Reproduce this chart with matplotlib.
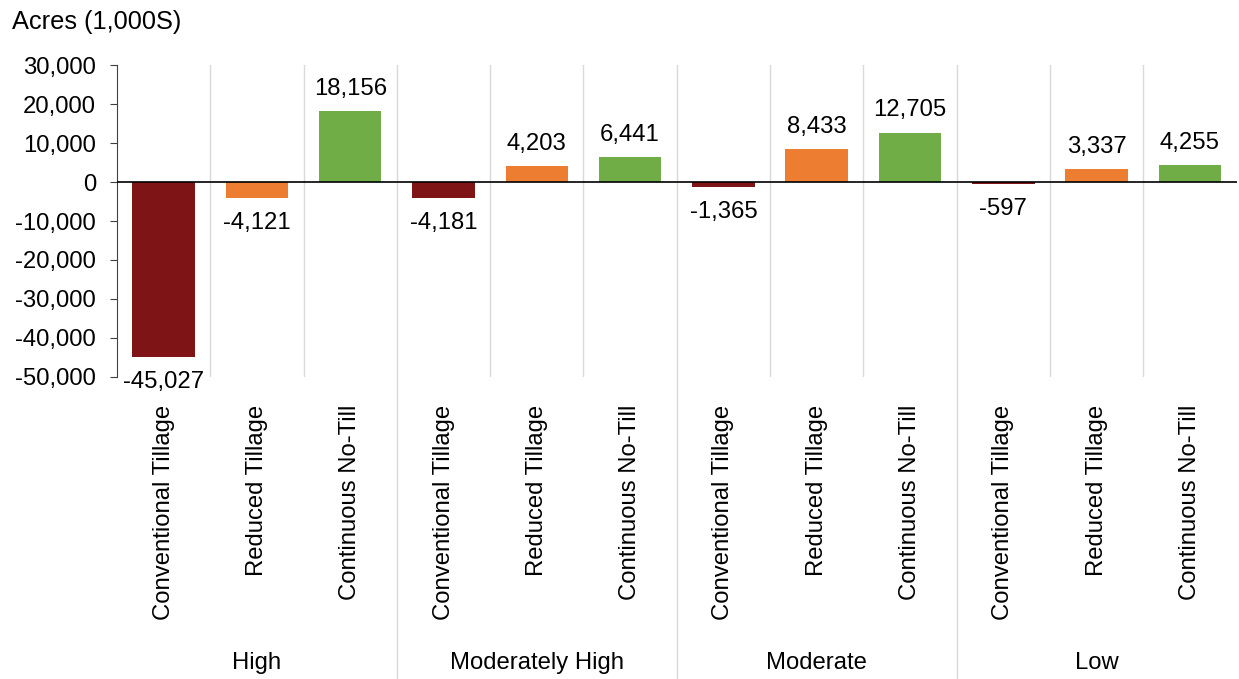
import matplotlib
matplotlib.use("Agg")
import matplotlib.pyplot as plt
import matplotlib.transforms as mtransforms
from matplotlib.ticker import FuncFormatter

plt.rcParams['font.family'] = ['Liberation Sans', 'DejaVu Sans']

# data
groups = ["High", "Moderately High", "Moderate", "Low"]
practices = ["Conventional Tillage", "Reduced Tillage", "Continuous No-Till"]
values_high = [-45027, -4121, 18156]
values_mod_high = [-4181, 4203, 6441]
values_moderate = [-1365, 8433, 12705]
values_low = [-597, 3337, 4255]
practice_colors = ["#7F1416", "#ED7D31", "#70AD47"]

all_values = values_high + values_mod_high + values_moderate + values_low
n_prac = len(practices)
xs = list(range(len(all_values)))
colors = practice_colors * len(groups)

FS = 17.2

fig = plt.figure(figsize=(12.39, 6.79), dpi=100)
ax = fig.add_axes([0.0944, 0.445, 0.9036, 0.459])

ax.bar(xs, all_values, width=0.67, color=colors, zorder=3)
ax.set_xlim(-0.5, len(xs) - 0.5)
ax.set_ylim(-50000, 30000)
ax.set_yticks(range(-50000, 30001, 10000))
ax.yaxis.set_major_formatter(FuncFormatter(lambda v, p: f"{int(v):,}"))
ax.tick_params(axis='y', labelsize=FS, length=5, color='#404040', pad=10)
ax.set_xticks([])

for s in ['top', 'right', 'bottom']:
    ax.spines[s].set_visible(False)
ax.spines['left'].set_color('#404040')

ax.axhline(0, color='black', lw=1.2, zorder=4)

# vertical separators between bars
for i in range(len(xs) - 1):
    ax.axvline(i + 0.5, color='#D9D9D9', lw=1, zorder=1)
# group separators continue down into label area
trans = mtransforms.blended_transform_factory(ax.transData, ax.transAxes)
for g in range(1, len(groups)):
    ax.plot([g * n_prac - 0.5] * 2, [-0.97, 0], color='#D9D9D9', lw=1,
            transform=trans, clip_on=False)

# value labels
for x, v in zip(xs, all_values):
    if v >= 0:
        ax.annotate(f"{v:,}", (x, v), xytext=(0, 8), textcoords='offset points',
                    ha='center', va='bottom', fontsize=FS)
    else:
        ax.annotate(f"{v:,}", (x, v), xytext=(0, -10), textcoords='offset points',
                    ha='center', va='top', fontsize=FS)

# category labels
for x in xs:
    ax.text(x, -0.09, practices[x % n_prac], rotation=90, ha='center', va='top',
            fontsize=FS, transform=trans)

# group labels
for g, name in enumerate(groups):
    ax.text(g * n_prac + 1, -0.917, name, ha='center', va='center',
            fontsize=FS, transform=trans)

fig.text(0.0097, 0.967, "Acres (1,000S)", fontsize=18.3, ha='left', va='center')

fig.savefig("out.png", dpi=100)
